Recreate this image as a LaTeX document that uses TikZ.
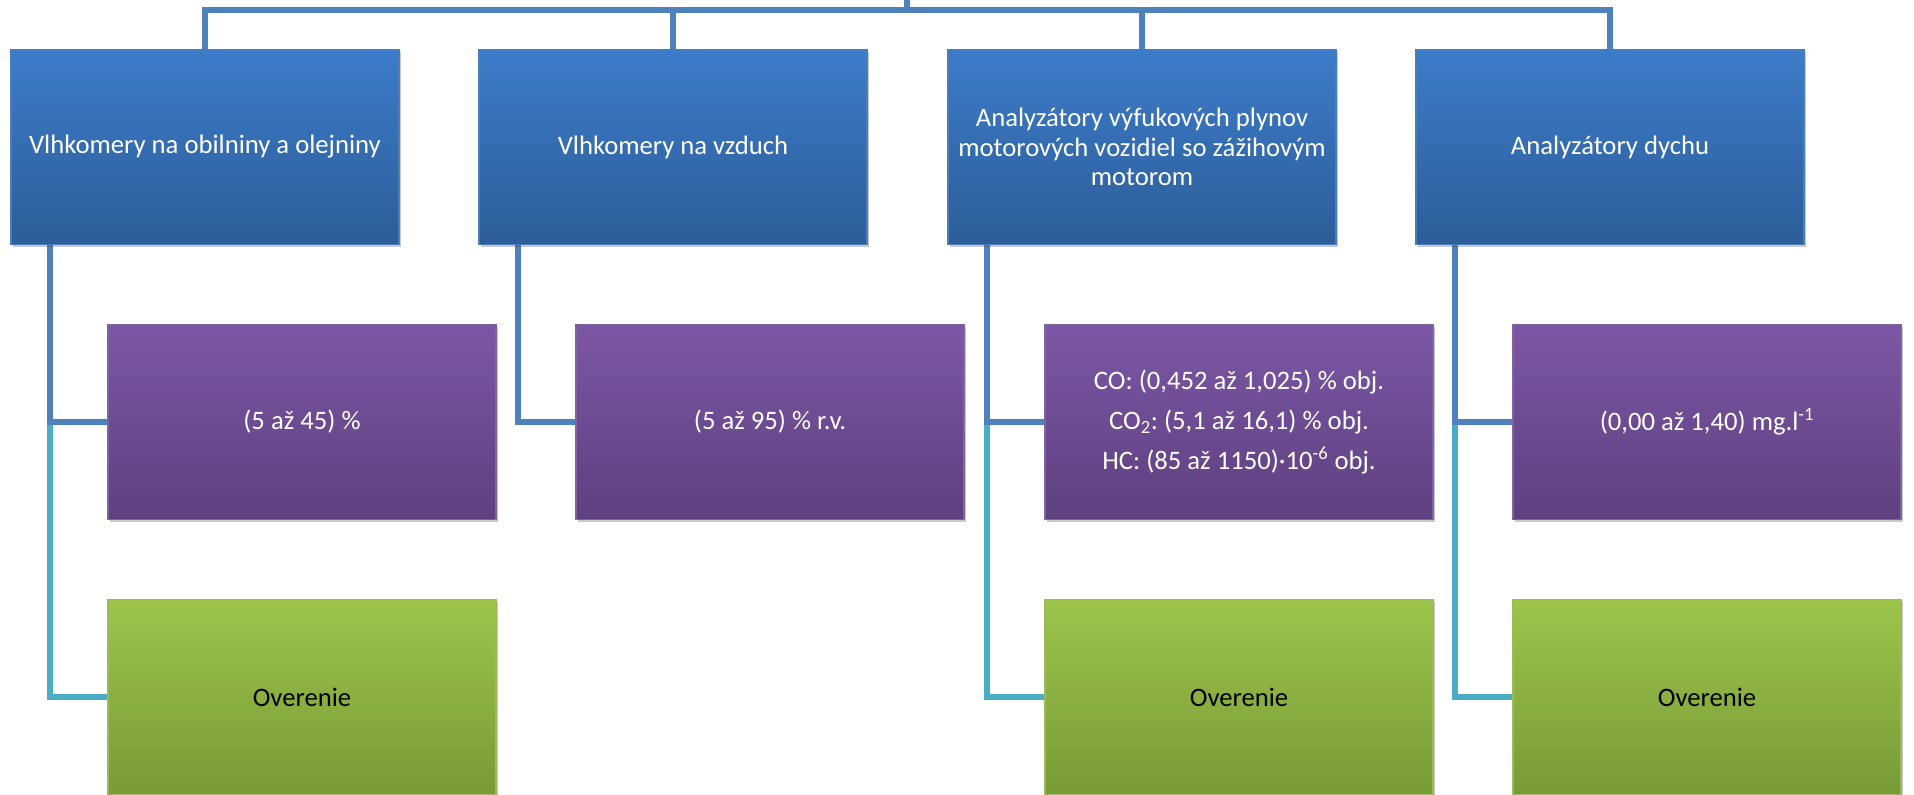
\documentclass[tikz,border=0pt]{standalone}
\usepackage{fontspec}
\setmainfont{Carlito}
\usetikzlibrary{shadows}
\definecolor{bTop}{HTML}{3C7CC9}
\definecolor{bBot}{HTML}{2D5D99}
\definecolor{bEdge}{HTML}{4A7EBB}
\definecolor{pTop}{HTML}{7C57A5}
\definecolor{pBot}{HTML}{5E407F}
\definecolor{pEdge}{HTML}{8064A2}
\definecolor{gTop}{HTML}{9DC54A}
\definecolor{gBot}{HTML}{789A38}
\definecolor{gEdge}{HTML}{9BBB59}
\definecolor{lineBlue}{HTML}{4F81BD}
\definecolor{lineCyan}{HTML}{4BACC6}
\pgfdeclarelayer{bg}
\pgfsetlayers{bg,main}
\tikzset{
  box/.style={rectangle, minimum width=291pt, minimum height=146pt, inner sep=3pt,
    outer sep=0pt, align=center, font=\fontsize{20}{22}\selectfont\frenchspacing, line width=0.8pt,
    drop shadow={shadow xshift=1.2pt, shadow yshift=-2pt, opacity=0.3, fill=black!70}},
  bluebox/.style={box, top color=bTop, bottom color=bBot, draw=bEdge, text=white},
  purplebox/.style={box, top color=pTop, bottom color=pBot, draw=pEdge, text=white},
  greenbox/.style={box, top color=gTop, bottom color=gBot, draw=gEdge, text=black},
  conn/.style={line width=4.3pt, draw=lineBlue},
  conncyan/.style={line width=4.3pt, draw=lineCyan}
}
\begin{document}
\frenchspacing
\begin{tikzpicture}[x=0.75pt,y=-0.75pt]
\useasboundingbox (0,0) rectangle (1914,795);
% level 1
\node[bluebox] (b1) at (205,147) {Vlhkomery na obilniny a olejniny};
\node[bluebox] (b2) at (673,147) {Vlhkomery na vzduch};
\node[bluebox] (b3) at (1142,147) {Analyzátory výfukových plynov\\motorových vozidiel so zážihovým\\motorom};
\node[bluebox] (b4) at (1610,147) {Analyzátory dychu};
% level 2
\node[purplebox] (p1) at (302,422) {(5 až 45) \%};
\node[purplebox] (p2) at (770,422) {(5 až 95) \% r.v.};
\node[purplebox, font=\fontsize{20}{30}\selectfont\frenchspacing] (p3) at (1239,422) {CO: (0,452 až 1,025) \% obj.\\CO\textsubscript{2}: (5,1 až 16,1) \% obj.\\HC: (85 až 1150)·10\textsuperscript{-6} obj.};
\node[purplebox] (p4) at (1707,422) {(0,00 až 1,40) mg.l\textsuperscript{-1}};
% level 3
\node[greenbox] (g1) at (302,697) {Overenie};
\node[greenbox] (g3) at (1239,697) {Overenie};
\node[greenbox] (g4) at (1707,697) {Overenie};
% connectors
\coordinate (root) at (907,-4);
\coordinate (bar) at (907,10);
\begin{pgfonlayer}{bg}
  \foreach \b in {b1,b2,b3,b4}{
    \draw[conn] (root) -- (bar) -| (\b.north);
  }
  \draw[conncyan] ([xshift=-116.25pt]b1.south) |- (g1.west);
  \draw[conncyan] ([xshift=-116.25pt]b3.south) |- (g3.west);
  \draw[conncyan] ([xshift=-116.25pt]b4.south) |- (g4.west);
  \draw[conn] ([xshift=-116.25pt]b1.south) |- (p1.west);
  \draw[conn] ([xshift=-116.25pt]b2.south) |- (p2.west);
  \draw[conn] ([xshift=-116.25pt]b3.south) |- (p3.west);
  \draw[conn] ([xshift=-116.25pt]b4.south) |- (p4.west);
\end{pgfonlayer}
\end{tikzpicture}
\end{document}
